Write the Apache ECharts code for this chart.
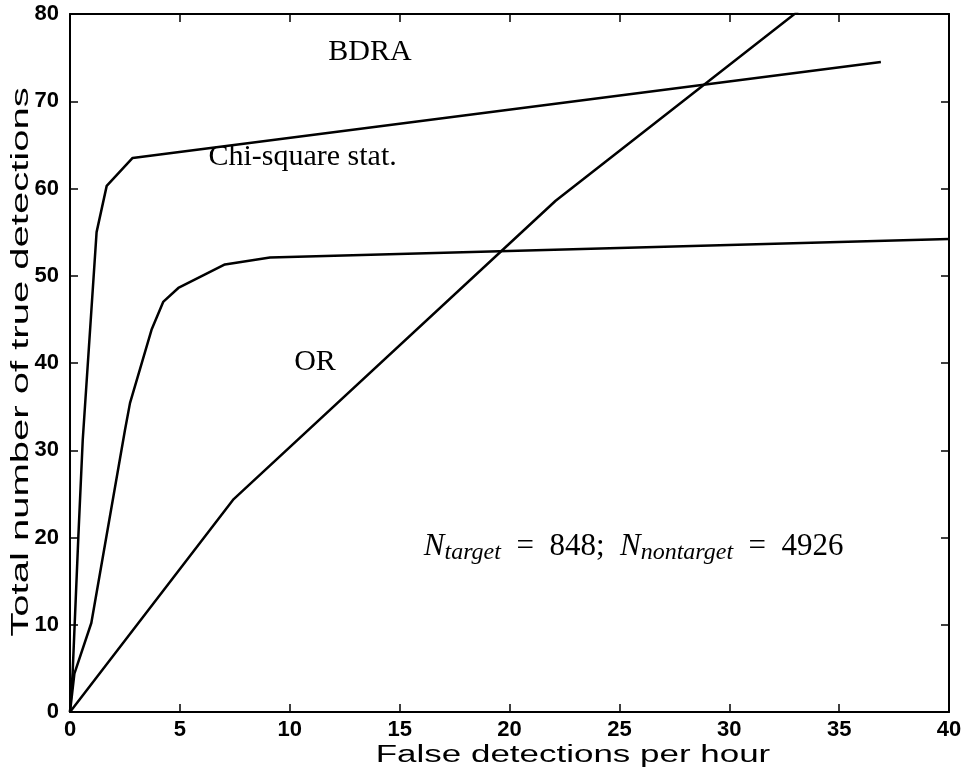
<!DOCTYPE html>
<html>
<head>
<meta charset="utf-8">
<script src="https://cdn.jsdelivr.net/npm/echarts@6/dist/echarts.min.js"></script>
<style>
  html, body { margin: 0; padding: 0; background: #fff; }
  #chart { width: 966px; height: 771px; }
</style>
</head>
<body>
<div id="chart"></div>
<script>
// Detection curves: false detections per hour vs. total true detections
const bdraX = [0, 0.12, 0.38, 0.58, 1.21, 1.67, 2.85, 36.9];
const bdraY = [0, 4.5, 20.1, 31.2, 55.0, 60.3, 63.5, 74.5];

const chiX = [0, 0.2, 0.97, 2.5, 2.73, 3.71, 4.24, 4.93, 7.05, 9.1, 40];
const chiY = [0, 4.4, 10.2, 32.3, 35.4, 43.8, 47.0, 48.6, 51.3, 52.1, 54.2];

const orX = [0, 7.45, 22.1, 35];
const orY = [0, 24.4, 58.6, 84.0];

const xTicks = [0, 5, 10, 15, 20, 25, 30, 35, 40];
const yTicks = [0, 10, 20, 30, 40, 50, 60, 70, 80];

const xTitle = 'False detections per hour';
const yTitle = 'Total number of true detections';

// Curve labels and the sample-size note, in data coordinates
const curveLabels = [
  { text: 'BDRA', at: [13.65, 75.6], align: 'center' },
  { text: 'Chi-square stat.', at: [6.3, 63.6], align: 'left' },
  { text: 'OR', at: [11.15, 40.1], align: 'center' }
];
const notePos = [16.1, 18.9];

const pairs = (xs, ys) => xs.map((x, i) => [x, ys[i]]);

const chart = echarts.init(document.getElementById('chart'), null, { renderer: 'canvas' });

const axisLine = { show: true, onZero: false, lineStyle: { color: '#000', width: 2 } };
const tickIn = { show: true, inside: true, length: 8, lineStyle: { color: '#000', width: 1.5 } };
const sans = 'Liberation Sans, Arial, sans-serif';
const serif = 'Liberation Serif, Times New Roman, serif';

const lineSeries = (name, xs, ys) => ({
  name, type: 'line', data: pairs(xs, ys), symbol: 'none', clip: true,
  lineStyle: { color: '#000', width: 2.5 }, animation: false
});

const tickLabel = { color: '#000', fontFamily: sans, fontSize: 22, fontWeight: 'bold' };

chart.setOption({
  animation: false,
  backgroundColor: '#fff',
  grid: { left: 70, right: 17, top: 14, bottom: 59, containLabel: false, outerBoundsMode: 'none' },
  xAxis: [
    {
      type: 'value', min: 0, max: 40, interval: 5, position: 'bottom',
      axisLine, axisTick: tickIn, splitLine: { show: false },
      axisLabel: Object.assign({ margin: 7, formatter: v => (xTicks.includes(v) ? String(v) : '') }, tickLabel)
    },
    {
      type: 'value', min: 0, max: 40, interval: 5, position: 'top',
      axisLine, axisTick: tickIn, axisLabel: { show: false }, splitLine: { show: false }
    }
  ],
  yAxis: [
    {
      type: 'value', min: 0, max: 80, interval: 10, position: 'left',
      axisLine, axisTick: tickIn, splitLine: { show: false },
      axisLabel: Object.assign({ margin: 11, formatter: v => (yTicks.includes(v) ? String(v) : '') }, tickLabel)
    },
    {
      type: 'value', min: 0, max: 80, interval: 10, position: 'right',
      axisLine, axisTick: tickIn, axisLabel: { show: false }, splitLine: { show: false }
    }
  ],
  series: [
    lineSeries('BDRA', bdraX, bdraY),
    lineSeries('Chi-square stat.', chiX, chiY),
    lineSeries('OR', orX, orY)
  ]
});

// Place the text annotations at their data positions
const px = p => chart.convertToPixel({ gridIndex: 0 }, p);
const graphics = curveLabels.map(l => {
  const [x, y] = px(l.at);
  return {
    type: 'text', x, y,
    style: { text: l.text, font: '30px ' + serif, fill: '#000',
      textAlign: l.align, textVerticalAlign: 'middle' }
  };
});
const [nx, ny] = px(notePos);
graphics.push({
  type: 'text', x: nx, y: ny,
  style: {
    text: '{n|N}{s|target}{t|\u2002=\u2002848;\u2002}{n|N}{s|nontarget}{t|\u2002=\u20024926}',
    textAlign: 'left', textVerticalAlign: 'middle', fill: '#000',
    rich: {
      n: { fontFamily: serif, fontStyle: 'italic', fontSize: 31, lineHeight: 36, verticalAlign: 'middle' },
      t: { fontFamily: serif, fontSize: 31, lineHeight: 36, verticalAlign: 'middle' },
      s: { fontFamily: serif, fontStyle: 'italic', fontSize: 24, lineHeight: 22, verticalAlign: 'bottom' }
    }
  }
});

// Axis titles, widened along their baseline
graphics.push({
  type: 'text', x: 573, y: 756, scaleX: 1.52,
  style: { text: xTitle, font: '23px ' + sans, fill: '#000', textAlign: 'center', textVerticalAlign: 'middle' }
});
graphics.push({
  type: 'text', x: 22, y: 362, rotation: Math.PI / 2, scaleX: 1.74,
  style: { text: yTitle, font: '23px ' + sans, fill: '#000', textAlign: 'center', textVerticalAlign: 'middle' }
});
chart.setOption({ graphic: graphics });
</script>
</body>
</html>
